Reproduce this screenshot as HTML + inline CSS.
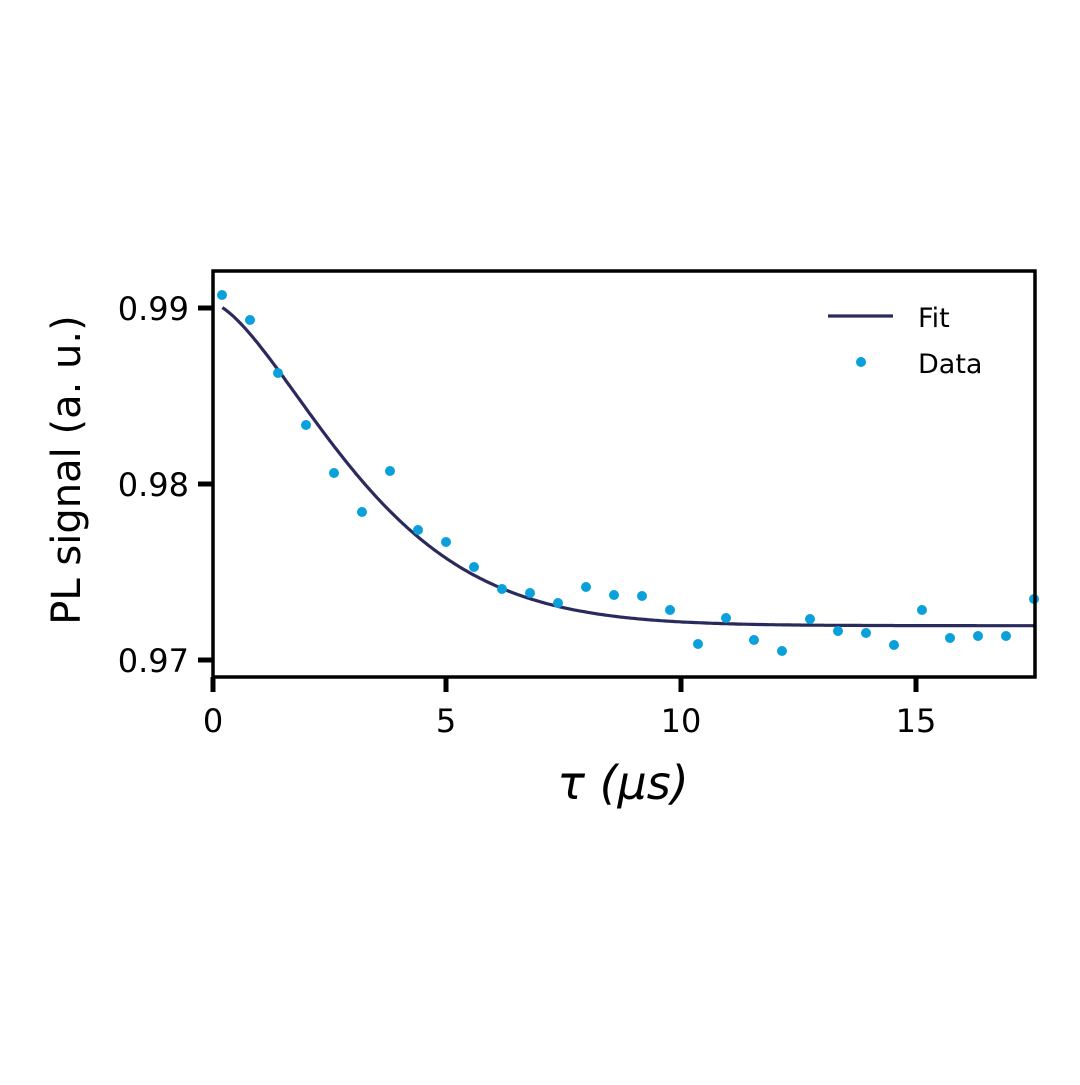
<!DOCTYPE html>
<html><head><style>body{margin:0;background:#fff}</style></head><body>
<svg width="1080" height="1080" xmlns="http://www.w3.org/2000/svg" font-family="'DejaVu Sans','Liberation Sans',sans-serif">
<rect width="1080" height="1080" fill="#fff"/>
<path id="fit" fill="none" stroke="#2b2a5c" stroke-width="3.2" d=""/>
<g fill="#0aa0dc">
<circle cx="222" cy="295" r="5"/><circle cx="250" cy="320" r="5"/><circle cx="278" cy="373" r="5"/><circle cx="306" cy="425" r="5"/><circle cx="334" cy="473" r="5"/><circle cx="362" cy="512" r="5"/><circle cx="390" cy="471" r="5"/><circle cx="418" cy="530" r="5"/><circle cx="446" cy="542" r="5"/><circle cx="474" cy="567" r="5"/><circle cx="502" cy="589" r="5"/><circle cx="530" cy="593" r="5"/><circle cx="558" cy="603" r="5"/><circle cx="586" cy="587" r="5"/><circle cx="614" cy="595" r="5"/><circle cx="642" cy="596" r="5"/><circle cx="670" cy="610" r="5"/><circle cx="698" cy="644" r="5"/><circle cx="726" cy="618" r="5"/><circle cx="754" cy="640" r="5"/><circle cx="782" cy="651" r="5"/><circle cx="810" cy="619" r="5"/><circle cx="838" cy="631" r="5"/><circle cx="866" cy="633" r="5"/><circle cx="894" cy="645" r="5"/><circle cx="922" cy="610" r="5"/><circle cx="950" cy="638" r="5"/><circle cx="978" cy="636" r="5"/><circle cx="1006" cy="636" r="5"/><circle cx="1034" cy="599" r="5"/>
</g>
<rect x="213" y="271" width="822" height="406" fill="none" stroke="#000" stroke-width="3.5"/>
<g stroke="#000" stroke-width="5">
<line x1="213" y1="677" x2="213" y2="692"/><line x1="446" y1="677" x2="446" y2="692"/><line x1="681" y1="677" x2="681" y2="692"/><line x1="916" y1="677" x2="916" y2="692"/>
<line x1="198" y1="308" x2="213" y2="308"/><line x1="198" y1="484" x2="213" y2="484"/><line x1="198" y1="660" x2="213" y2="660"/>
</g>
<g font-size="32" fill="#000">
<g text-anchor="middle"><text x="213" y="732">0</text><text x="446" y="732">5</text><text x="681" y="732">10</text><text x="916" y="732">15</text></g>
<g text-anchor="end"><text x="189" y="320">0.99</text><text x="189" y="496">0.98</text><text x="189" y="672">0.97</text></g>
</g>
<text transform="translate(80,470) rotate(-90)" text-anchor="middle" font-size="40">PL signal (a. u.)</text>
<text x="623" y="799" text-anchor="middle" font-size="46" font-style="italic">τ (μs)</text>
<line x1="828" y1="316" x2="893" y2="316" stroke="#2b2a5c" stroke-width="3.2"/>
<circle cx="861" cy="362" r="5" fill="#0aa0dc"/>
<text x="918" y="327" font-size="27">Fit</text>
<text x="918" y="373" font-size="27">Data</text>
<script>
var d="";for(var t=0.2;t<=17.56;t+=0.05){var v=0.97195+0.0183*Math.exp(-Math.pow(t/3.69,1.5));var x=213+t*46.9,y=308+(0.99-v)/0.001*17.6;d+=(d?"L":"M")+x.toFixed(1)+","+y.toFixed(1);}
document.getElementById("fit").setAttribute("d",d);
</script>
</svg>
</body></html>
